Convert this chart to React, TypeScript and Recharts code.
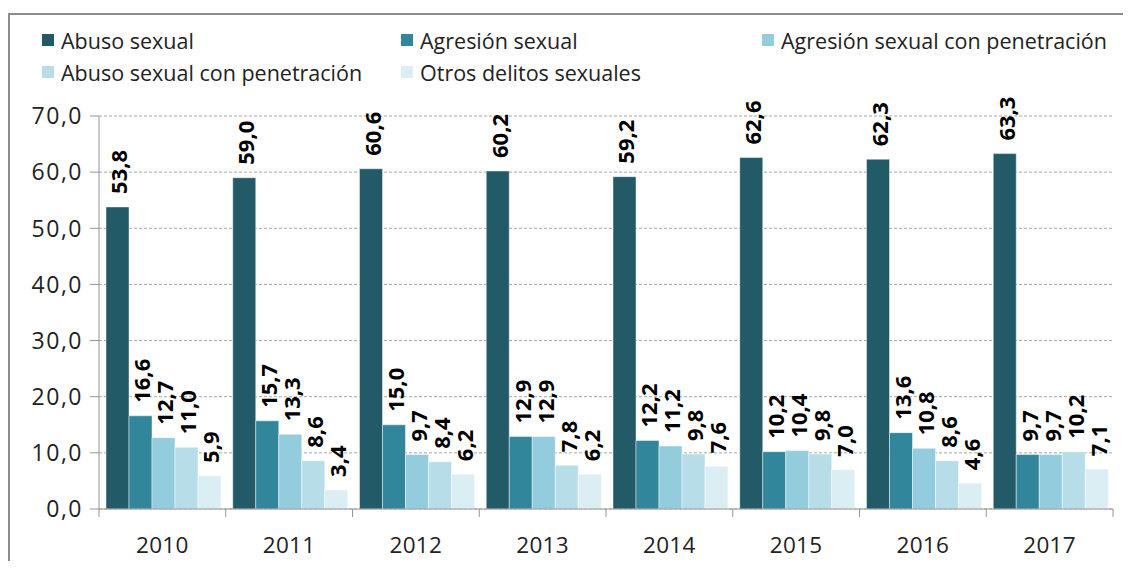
import React from 'react';
import { BarChart, Bar, XAxis, YAxis, CartesianGrid, LabelList } from 'recharts';

const years = ['2010', '2011', '2012', '2013', '2014', '2015', '2016', '2017'];
const abusoSexual = [53.8, 59.0, 60.6, 60.2, 59.2, 62.6, 62.3, 63.3];
const agresionSexual = [16.6, 15.7, 15.0, 12.9, 12.2, 10.2, 13.6, 9.7];
const agresionPenetracion = [12.7, 13.3, 9.7, 12.9, 11.2, 10.4, 10.8, 9.7];
const abusoPenetracion = [11.0, 8.6, 8.4, 7.8, 9.8, 9.8, 8.6, 10.2];
const otrosDelitos = [5.9, 3.4, 6.2, 6.2, 7.6, 7.0, 4.6, 7.1];
const yTicks = [0, 10, 20, 30, 40, 50, 60, 70];

const seriesDefs = [
  { key: 'abuso', name: 'Abuso sexual', color: '#235A68', values: abusoSexual },
  { key: 'agresion', name: 'Agresión sexual', color: '#31869B', values: agresionSexual },
  { key: 'agresionPen', name: 'Agresión sexual con penetración', color: '#93CDDD', values: agresionPenetracion },
  { key: 'abusoPen', name: 'Abuso sexual con penetración', color: '#B7DEE8', values: abusoPenetracion },
  { key: 'otros', name: 'Otros delitos sexuales', color: '#DAEEF3', values: otrosDelitos },
];

const data = years.map((y, i) => {
  const row: Record<string, string | number> = { year: y };
  seriesDefs.forEach((s) => {
    row[s.key] = s.values[i];
  });
  return row;
});

const FONT = '"Open Sans", "DejaVu Sans", sans-serif';
const TEXT = '#222222';
const AXIS = '#959595';

const CHART_W = 1123;
const CHART_H = 553;
const MARGIN = { top: 108, right: 18, bottom: 0, left: 0 };
const Y_AXIS_W = 91;
const X_AXIS_H = 52;
const PLOT_W = CHART_W - MARGIN.left - MARGIN.right - Y_AXIS_W;
const BAND = PLOT_W / years.length;

const fmt = (v: number) => v.toFixed(1).replace('.', ',');

const XTick = (props: any) => {
  const { x, y, payload, index } = props;
  const left = x - BAND / 2;
  const right = x + BAND / 2;
  return (
    <g>
      <line x1={left} y1={y} x2={left} y2={y + 8} stroke={AXIS} strokeWidth={1} />
      {index === years.length - 1 && (
        <line x1={right} y1={y} x2={right} y2={y + 8} stroke={AXIS} strokeWidth={1} />
      )}
      <text x={x} y={y + 44} textAnchor="middle" fontSize={22.5} fontFamily={FONT} fill={TEXT} letterSpacing={0.3}>
        {payload.value}
      </text>
    </g>
  );
};

const YTick = (props: any) => {
  const { x, y, payload } = props;
  return (
    <text
      x={x}
      y={y}
      dy="0.36em"
      textAnchor="end"
      fontSize={23}
      fontFamily={FONT}
      fill={TEXT}
      letterSpacing={1.5}
    >
      {fmt(Number(payload.value))}
    </text>
  );
};

const RotLabel = (props: any) => {
  const { x, y, width, value } = props;
  const cx = x + width / 2 + 1;
  const ty = y - 13;
  return (
    <text
      x={cx}
      y={ty}
      transform={`rotate(-90, ${cx}, ${ty})`}
      textAnchor="start"
      dominantBaseline="central"
      fontSize={22}
      fontWeight={700}
      fontFamily={FONT}
      fill="#000"
    >
      {fmt(Number(value))}
    </text>
  );
};

const legendCols = [34, 393, 754];
const legendRows = [16, 48];

export default function App() {
  return (
    <div style={{ position: 'relative', width: CHART_W, height: CHART_H, overflow: 'hidden', background: '#fff' }}>
      <div
        style={{
          position: 'absolute',
          left: 0,
          top: 5,
          width: 3000,
          height: 3000,
          borderTop: '2px solid #8c8c8c',
          borderLeft: '2px solid #8c8c8c',
          boxSizing: 'border-box',
        }}
      />
      {seriesDefs.map((s, i) => (
        <div
          key={s.key}
          style={{
            position: 'absolute',
            left: legendCols[i % 3],
            top: legendRows[Math.floor(i / 3)],
            height: 32,
            display: 'flex',
            alignItems: 'center',
            fontFamily: FONT,
            fontSize: 21.5,
            color: TEXT,
            whiteSpace: 'nowrap',
          }}
        >
          <span style={{ display: 'inline-block', width: 12, height: 12, background: s.color, marginRight: 7 }} />
          <span>{s.name}</span>
        </div>
      ))}
      <div style={{ position: 'absolute', left: 0, top: 0 }}>
        <BarChart
          width={CHART_W}
          height={CHART_H}
          data={data}
          margin={MARGIN}
          barCategoryGap={7}
          barGap={0}
        >
          <CartesianGrid horizontal vertical={false} stroke="#a6a6a6" strokeDasharray="3 2" />
          <XAxis
            dataKey="year"
            height={X_AXIS_H}
            axisLine={{ stroke: AXIS }}
            tickLine={false}
            tickSize={0}
            tickMargin={0}
            tick={<XTick />}
            interval={0}
          />
          <YAxis
            width={Y_AXIS_W}
            domain={[0, 70]}
            ticks={yTicks}
            axisLine={{ stroke: AXIS }}
            tickLine={{ stroke: AXIS }}
            tickSize={9}
            tickMargin={7}
            tick={<YTick />}
            interval={0}
          />
          {seriesDefs.map((s) => (
            <Bar
              key={s.key}
              dataKey={s.key}
              name={s.name}
              fill={s.color}
              stroke="rgba(255,255,255,0.6)"
              strokeWidth={0.75}
              isAnimationActive={false}
            >
              <LabelList dataKey={s.key} content={<RotLabel />} />
            </Bar>
          ))}
        </BarChart>
      </div>
    </div>
  );
}
